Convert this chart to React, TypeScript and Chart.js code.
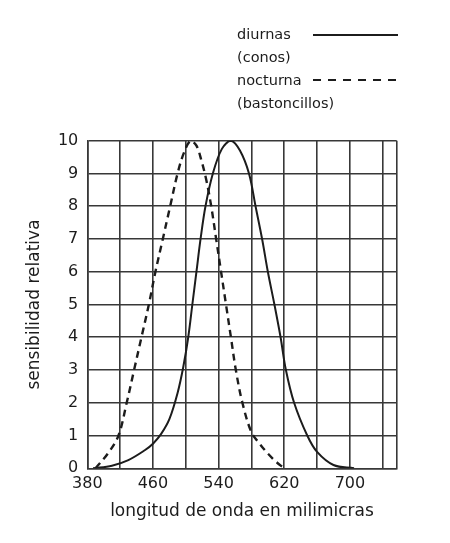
import React, { useEffect, useRef } from "react";
import { Chart, registerables } from "chart.js";

Chart.register(...registerables);

// curva diurna (conos), longitud de onda en nm -> sensibilidad relativa
const diurnasNm = [387, 410, 430, 450, 460, 470, 480, 490, 497, 503, 508, 513, 518, 524, 533, 544, 555, 566, 577, 585, 593, 600, 608, 615.5, 622, 632, 648, 660, 680, 705];
const diurnasSens = [0, 0.08, 0.25, 0.55, 0.75, 1.05, 1.5, 2.3, 3.1, 4, 5, 6, 7, 8, 9, 9.75, 10, 9.7, 9, 8, 7, 6, 5, 4, 3, 2, 1, 0.5, 0.1, 0];

// curva nocturna (bastoncillos)
const nocturnaNm = [390, 405, 418, 428, 437, 446, 455, 463, 472, 481, 490, 498, 506, 513, 519, 525, 531, 537, 543, 549, 555, 561, 569, 580, 590, 600, 610, 620];
const nocturnaSens = [0, 0.45, 1, 2, 3, 4, 5, 6, 7, 8, 9, 9.65, 10, 9.85, 9.4, 8.8, 8, 7, 6, 5, 4, 3, 2, 1.1, 0.75, 0.45, 0.2, 0];

const xGridTicks = [380, 420, 460, 500, 540, 580, 620, 660, 700, 740];
const xLabelTicks = [380, 460, 540, 620, 700];
const xMin = 380;
const xMax = 757;

const ink = "#1c1c1c";
const gridColor = "#383838";
const family = '"DejaVu Sans", sans-serif';

const legendPlugin = {
    id: "legendText",
    afterDraw(chart: Chart) {
        const ctx = chart.ctx;
        ctx.save();
        ctx.fillStyle = ink;
        ctx.strokeStyle = ink;
        ctx.font = `14.5px ${family}`;
        ctx.textBaseline = "middle";
        ctx.fillText("diurnas", 237, 35);
        ctx.fillText("(conos)", 237, 58);
        ctx.fillText("nocturna", 237, 81);
        ctx.fillText("(bastoncillos)", 237, 104);

        ctx.lineWidth = 1.8;
        ctx.beginPath();
        ctx.moveTo(313, 35);
        ctx.lineTo(398, 35);
        ctx.stroke();

        ctx.lineWidth = 2;
        ctx.setLineDash([8, 7]);
        ctx.beginPath();
        ctx.moveTo(313, 80);
        ctx.lineTo(398, 80);
        ctx.stroke();
        ctx.restore();
    },
};

const App: React.FC = () => {
    const canvasRef = useRef<HTMLCanvasElement>(null);

    useEffect(() => {
        if (!canvasRef.current) return;
        const ctx = canvasRef.current.getContext("2d");
        if (!ctx) return;

        const chart = new Chart(ctx, {
            type: "line",
            data: {
                datasets: [
                    {
                        label: "diurnas (conos)",
                        data: diurnasNm.map((x, i) => ({ x, y: diurnasSens[i] })),
                        borderColor: ink,
                        borderWidth: 2,
                        pointRadius: 0,
                        tension: 0.35,
                    },
                    {
                        label: "nocturna (bastoncillos)",
                        data: nocturnaNm.map((x, i) => ({ x, y: nocturnaSens[i] })),
                        borderColor: ink,
                        borderWidth: 2.4,
                        borderDash: [7, 5],
                        pointRadius: 0,
                        tension: 0.35,
                    },
                ],
            },
            options: {
                animation: false,
                responsive: false,
                layout: {
                    padding: { top: 140.7, right: 53.3, left: 0, bottom: 0 },
                },
                plugins: {
                    legend: { display: false },
                    tooltip: { enabled: false },
                },
                scales: {
                    x: {
                        type: "linear",
                        min: xMin,
                        max: xMax,
                        afterBuildTicks: (scale) => {
                            scale.ticks = [...xGridTicks, xMax].map((value) => ({ value }));
                        },
                        afterFit: (scale) => {
                            scale.height = 74.7;
                        },
                        grid: { color: gridColor, lineWidth: 1.6, drawTicks: false },
                        border: { color: gridColor, width: 1.6 },
                        ticks: {
                            autoSkip: false,
                            maxRotation: 0,
                            padding: 6,
                            color: ink,
                            font: { family, size: 16 },
                            callback: (value) => (xLabelTicks.includes(Number(value)) ? String(value) : ""),
                        },
                        title: {
                            display: true,
                            text: "longitud de onda en milimicras",
                            color: ink,
                            font: { family, size: 17 },
                            padding: { top: 0, bottom: 20.8 },
                        },
                    },
                    y: {
                        min: 0,
                        max: 10,
                        afterFit: (scale) => {
                            scale.width = 87.3;
                        },
                        grid: { color: gridColor, lineWidth: 1.6, drawTicks: false },
                        border: { color: gridColor, width: 1.6 },
                        ticks: {
                            stepSize: 1,
                            padding: 9,
                            color: ink,
                            font: { family, size: 16 },
                        },
                        title: {
                            display: true,
                            text: "sensibilidad relativa",
                            color: ink,
                            font: { family, size: 17 },
                            padding: { top: 24.8, bottom: 0 },
                        },
                    },
                },
            },
            plugins: [legendPlugin],
        });

        return () => {
            chart.destroy();
        };
    }, []);

    return (
        <div style={{ position: "absolute", left: 0, top: 0, width: 450, height: 543, background: "#fff" }}>
            <canvas ref={canvasRef} width={450} height={543} style={{ width: 450, height: 543 }}></canvas>
        </div>
    );
};

export default App;
